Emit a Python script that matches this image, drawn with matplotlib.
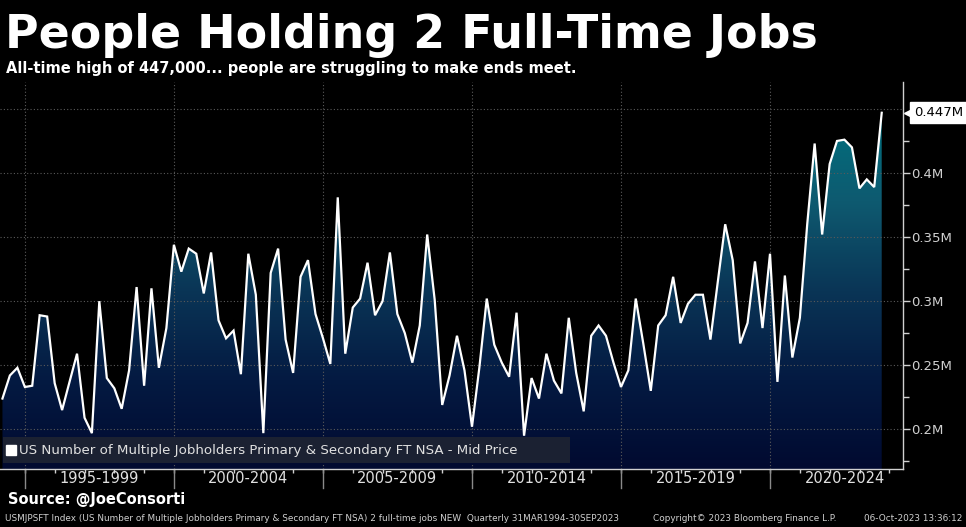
import numpy as np
import pandas as pd
import matplotlib
matplotlib.use("Agg")
import matplotlib.pyplot as plt
import matplotlib.dates as mdates
import matplotlib.colors as mcolors
import matplotlib.transforms as mtransforms
from matplotlib.patches import Rectangle

# quarterly values, millions of people (31MAR1994 - 30SEP2023)
jobholders = [
    0.224, 0.242, 0.248, 0.233, 0.234, 0.289, 0.288, 0.236, 0.215, 0.237, 0.259, 0.209,
    0.197, 0.300, 0.240, 0.232, 0.216, 0.246, 0.311, 0.234, 0.310, 0.248, 0.279, 0.344,
    0.323, 0.341, 0.337, 0.306, 0.338, 0.285, 0.271, 0.277, 0.243, 0.337, 0.305, 0.197,
    0.322, 0.341, 0.270, 0.244, 0.319, 0.332, 0.290, 0.271, 0.251, 0.381, 0.259, 0.295,
    0.302, 0.330, 0.289, 0.300, 0.338, 0.290, 0.275, 0.252, 0.281, 0.352, 0.301, 0.219,
    0.242, 0.273, 0.246, 0.202, 0.248, 0.302, 0.266, 0.252, 0.241, 0.291, 0.195, 0.240,
    0.224, 0.259, 0.238, 0.228, 0.287, 0.244, 0.214, 0.273, 0.281, 0.273, 0.252, 0.233,
    0.246, 0.302, 0.267, 0.230, 0.281, 0.289, 0.319, 0.283, 0.298, 0.305, 0.305, 0.270,
    0.315, 0.360, 0.332, 0.267, 0.283, 0.331, 0.279, 0.337, 0.237, 0.320, 0.256, 0.287,
    0.360, 0.423, 0.352, 0.407, 0.425, 0.426, 0.420, 0.388, 0.395, 0.389, 0.447,
]
dates = pd.date_range("1994-03-31", "2023-09-30", freq="QE")

period_starts = [1995, 2000, 2005, 2010, 2015, 2020]
period_labels = ["1995-1999", "2000-2004", "2005-2009", "2010-2014", "2015-2019", "2020-2024"]
y_ticks = [0.2, 0.25, 0.3, 0.35, 0.4]
y_tick_labels = ["0.2M", "0.25M", "0.3M", "0.35M", "0.4M"]
y_minor = [0.175, 0.225, 0.275, 0.325, 0.375, 0.425]
grid_levels = [0.2, 0.25, 0.3, 0.35, 0.4, 0.45]

title = "People Holding 2 Full-Time Jobs"
subtitle = "All-time high of 447,000... people are struggling to make ends meet."
legend_text = "US Number of Multiple Jobholders Primary & Secondary FT NSA - Mid Price"
source = "Source: @JoeConsorti"
footer_left = ("USMJPSFT Index (US Number of Multiple Jobholders Primary & Secondary FT NSA) "
               "2 full-time jobs NEW  Quarterly 31MAR1994-30SEP2023")
footer_mid = "Copyright\u00a9 2023 Bloomberg Finance L.P."
footer_right = "06-Oct-2023 13:36:12"
last_label = "0.447M"

x = mdates.date2num(dates)
y = np.array(jobholders)
grey = "#d0d0d0"
grid_col = "#5a5a5a"

fig = plt.figure(figsize=(9.66, 5.27), dpi=100, facecolor="black")
ax = fig.add_axes([0.0, 0.110, 0.9348, 0.7344])
ax.set_facecolor("black")

xmin = mdates.date2num(pd.Timestamp("1994-03-01"))
xmax = mdates.date2num(pd.Timestamp("2024-06-17"))
ymin, ymax = 0.169, 0.471
ax.set_xlim(xmin, xmax)
ax.set_ylim(ymin, ymax)

# gradient area under the line
cmap = mcolors.LinearSegmentedColormap.from_list(
    "bbg", ["#010a30", "#041a42", "#0a3556", "#0e5a70", "#00707e"])
grad = np.linspace(0, 1, 256).reshape(-1, 1)
fill = ax.fill_between(x, y, ymin, facecolor="none", edgecolor="none")
im = ax.imshow(grad, cmap=cmap, aspect="auto", origin="lower",
               extent=[x[0], x[-1], ymin, max(jobholders)], zorder=1)
im.set_clip_path(fill.get_paths()[0], transform=ax.transData)

# dotted grid on top of the fill
for lev in grid_levels:
    ax.axhline(lev, color=grid_col, lw=0.8, ls=(0, (1, 2)), zorder=3)
for yr in period_starts:
    ax.axvline(mdates.date2num(pd.Timestamp(f"{yr}-01-01")), color=grid_col,
               lw=0.8, ls=(0, (1, 2)), zorder=3)

ax.plot(x, y, color="white", lw=1.6, zorder=4, solid_joinstyle="miter")

# spines
for s in ["top", "left"]:
    ax.spines[s].set_visible(False)
for s in ["right", "bottom"]:
    ax.spines[s].set_color(grey)
    ax.spines[s].set_linewidth(1.0)

# right axis
ax.yaxis.tick_right()
ax.set_yticks(y_ticks)
ax.set_yticklabels(y_tick_labels)
ax.set_yticks(y_minor, minor=True)
ax.tick_params(axis="y", which="major", length=5, width=1, colors=grey,
               labelsize=9.5, pad=1)
ax.tick_params(axis="y", which="minor", length=4, width=1, colors=grey)

# bottom axis: yearly minor ticks, labels between separators
ax.xaxis.set_major_locator(mdates.YearLocator(1))
ax.tick_params(axis="x", which="major", length=3, width=1, colors=grey,
               labelbottom=False)
trans = mtransforms.blended_transform_factory(ax.transData, ax.transAxes)
for yr, lab in zip(period_starts, period_labels):
    x0 = mdates.date2num(pd.Timestamp(f"{yr}-01-01"))
    ax.plot([x0, x0], [0, -0.05], color="#8a8a8a", lw=1, transform=trans,
            clip_on=False)
    xc = mdates.date2num(pd.Timestamp(f"{yr + 2}-07-01"))
    ax.text(xc, -0.025, lab, transform=trans, ha="center", va="center",
            color="#e0e0e0", fontsize=10.5)

# legend box
ax.add_patch(Rectangle((0.0033, 0.0155), 0.628, 0.067, transform=ax.transAxes,
                       facecolor="#1b2132", edgecolor="none", zorder=5))
ax.plot(0.012, 0.049, "s", ms=6.5, color="white", transform=ax.transAxes, zorder=6)
ax.text(0.021, 0.049, legend_text, transform=ax.transAxes, ha="left", va="center",
        color="#e0e0e0", fontsize=9.6, zorder=6)

# last value tag
tag_trans = mtransforms.blended_transform_factory(ax.transAxes, ax.transData)
ax.plot(1.0, jobholders[-1], marker="<", ms=8, color="white", clip_on=False,
        transform=mtransforms.offset_copy(tag_trans, fig=fig, x=5, units="points"))
ax.annotate(last_label, xy=(1.0, jobholders[-1]), xycoords=tag_trans,
            xytext=(8, 0), textcoords="offset points", ha="left", va="center",
            color="black", fontsize=9.5, annotation_clip=False,
            bbox=dict(boxstyle="square,pad=0.3", fc="white", ec="white"))

# titles and footers
fig.text(0.005, 0.909, title, color="white", fontsize=33, fontweight="bold",
         ha="left", va="baseline")
fig.text(0.006, 0.862, subtitle, color="white", fontsize=10.5, fontweight="bold",
         ha="left", va="baseline")
fig.text(0.008, 0.044, source, color="white", fontsize=10.5, fontweight="bold",
         ha="left", va="baseline")
fig.text(0.005, 0.011, footer_left, color=grey, fontsize=6.4, ha="left", va="baseline")
fig.text(0.676, 0.011, footer_mid, color=grey, fontsize=6.4, ha="left", va="baseline")
fig.text(0.996, 0.011, footer_right, color=grey, fontsize=6.4, ha="right", va="baseline")

fig.savefig("out.png", dpi=100, facecolor="black")
